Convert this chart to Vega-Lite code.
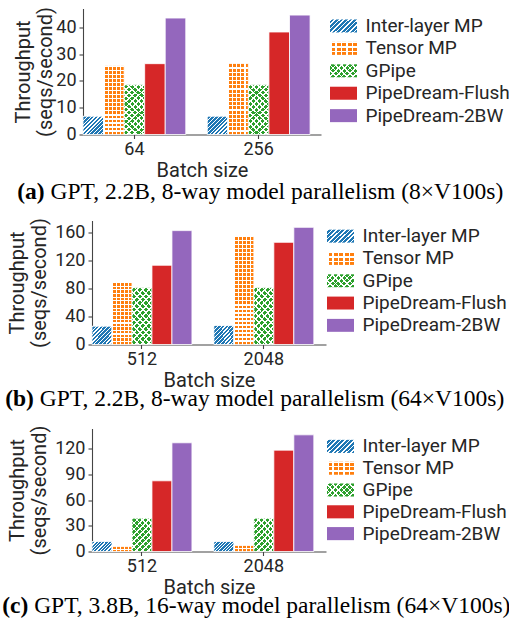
{
  "$schema": "https://vega.github.io/schema/vega-lite/v6.json",
  "padding": {"left": 2, "top": 6.5, "right": 0, "bottom": 0},
  "datasets": {
    "a": [
      {"batch": "64", "series": "Inter-layer MP", "value": 6.8},
      {"batch": "64", "series": "Tensor MP", "value": 25.6},
      {"batch": "64", "series": "GPipe", "value": 18.5},
      {"batch": "64", "series": "PipeDream-Flush", "value": 26.4},
      {"batch": "64", "series": "PipeDream-2BW", "value": 43.4},
      {"batch": "256", "series": "Inter-layer MP", "value": 6.8},
      {"batch": "256", "series": "Tensor MP", "value": 26.6},
      {"batch": "256", "series": "GPipe", "value": 18.5},
      {"batch": "256", "series": "PipeDream-Flush", "value": 38.2},
      {"batch": "256", "series": "PipeDream-2BW", "value": 44.5}
    ],
    "b": [
      {"batch": "512", "series": "Inter-layer MP", "value": 26.2},
      {"batch": "512", "series": "Tensor MP", "value": 89.7},
      {"batch": "512", "series": "GPipe", "value": 81.6},
      {"batch": "512", "series": "PipeDream-Flush", "value": 113.6},
      {"batch": "512", "series": "PipeDream-2BW", "value": 163.3},
      {"batch": "2048", "series": "Inter-layer MP", "value": 27.2},
      {"batch": "2048", "series": "Tensor MP", "value": 155.6},
      {"batch": "2048", "series": "GPipe", "value": 81.6},
      {"batch": "2048", "series": "PipeDream-Flush", "value": 146.5},
      {"batch": "2048", "series": "PipeDream-2BW", "value": 168}
    ],
    "c": [
      {"batch": "512", "series": "Inter-layer MP", "value": 11.7},
      {"batch": "512", "series": "Tensor MP", "value": 5.8},
      {"batch": "512", "series": "GPipe", "value": 38.9},
      {"batch": "512", "series": "PipeDream-Flush", "value": 82.6},
      {"batch": "512", "series": "PipeDream-2BW", "value": 127},
      {"batch": "2048", "series": "Inter-layer MP", "value": 11.7},
      {"batch": "2048", "series": "Tensor MP", "value": 7},
      {"batch": "2048", "series": "GPipe", "value": 38.9},
      {"batch": "2048", "series": "PipeDream-Flush", "value": 118.4},
      {"batch": "2048", "series": "PipeDream-2BW", "value": 136.3}
    ],
    "keys": [
      {"series": "Inter-layer MP"},
      {"series": "Tensor MP"},
      {"series": "GPipe"},
      {"series": "PipeDream-Flush"},
      {"series": "PipeDream-2BW"}
    ]
  },
  "config": {
    "font": "Roboto",
    "view": {"stroke": null},
    "axis": {
      "grid": false,
      "labelFont": "Roboto", "labelFontSize": 18, "labelColor": "#262626",
      "titleFont": "Roboto", "titleFontSize": 20, "titleFontWeight": "normal", "titleColor": "#262626",
      "domainColor": "#444", "tickColor": "#444", "domainWidth": 1.1, "tickWidth": 1.1
    },
    "axisX": {"ticks": true, "tickSize": 4, "labelPadding": 1.8, "titlePadding": 2, "labelAngle": 0},
    "axisY": {"tickSize": 4, "labelPadding": 3, "titlePadding": 5, "titleLineHeight": 22},
    "title": {"font": "Liberation Serif", "fontSize": 23.5, "color": "#000", "orient": "bottom", "anchor": "start", "fontWeight": "normal", "offset": 2},
    "style": {
      "hIL": {"color": {"gradient": "linear", "x1": 0, "y1": 0, "x2": 1.06, "y2": 0.94, "stops": [
        {"offset": 0, "color": "#fff"}, {"offset": 0.035, "color": "#fff"}, {"offset": 0.035, "color": "#1f77b4"}, {"offset": 0.1, "color": "#1f77b4"},
        {"offset": 0.1, "color": "#fff"}, {"offset": 0.135, "color": "#fff"}, {"offset": 0.135, "color": "#1f77b4"}, {"offset": 0.2, "color": "#1f77b4"},
        {"offset": 0.2, "color": "#fff"}, {"offset": 0.235, "color": "#fff"}, {"offset": 0.235, "color": "#1f77b4"}, {"offset": 0.3, "color": "#1f77b4"},
        {"offset": 0.3, "color": "#fff"}, {"offset": 0.335, "color": "#fff"}, {"offset": 0.335, "color": "#1f77b4"}, {"offset": 0.4, "color": "#1f77b4"},
        {"offset": 0.4, "color": "#fff"}, {"offset": 0.435, "color": "#fff"}, {"offset": 0.435, "color": "#1f77b4"}, {"offset": 0.5, "color": "#1f77b4"},
        {"offset": 0.5, "color": "#fff"}, {"offset": 0.535, "color": "#fff"}, {"offset": 0.535, "color": "#1f77b4"}, {"offset": 0.6, "color": "#1f77b4"},
        {"offset": 0.6, "color": "#fff"}, {"offset": 0.635, "color": "#fff"}, {"offset": 0.635, "color": "#1f77b4"}, {"offset": 0.7, "color": "#1f77b4"},
        {"offset": 0.7, "color": "#fff"}, {"offset": 0.735, "color": "#fff"}, {"offset": 0.735, "color": "#1f77b4"}, {"offset": 0.8, "color": "#1f77b4"},
        {"offset": 0.8, "color": "#fff"}, {"offset": 0.835, "color": "#fff"}, {"offset": 0.835, "color": "#1f77b4"}, {"offset": 0.9, "color": "#1f77b4"},
        {"offset": 0.9, "color": "#fff"}, {"offset": 0.935, "color": "#fff"}, {"offset": 0.935, "color": "#1f77b4"}, {"offset": 1, "color": "#1f77b4"}
      ]}},
      "hILw": {"color": {"gradient": "linear", "x1": 0, "y1": 0, "x2": 1.2, "y2": 0.6, "stops": [
        {"offset": 0, "color": "#fff"}, {"offset": 0.04, "color": "#fff"}, {"offset": 0.04, "color": "#1f77b4"}, {"offset": 0.111, "color": "#1f77b4"},
        {"offset": 0.111, "color": "#fff"}, {"offset": 0.151, "color": "#fff"}, {"offset": 0.151, "color": "#1f77b4"}, {"offset": 0.222, "color": "#1f77b4"},
        {"offset": 0.222, "color": "#fff"}, {"offset": 0.262, "color": "#fff"}, {"offset": 0.262, "color": "#1f77b4"}, {"offset": 0.333, "color": "#1f77b4"},
        {"offset": 0.333, "color": "#fff"}, {"offset": 0.373, "color": "#fff"}, {"offset": 0.373, "color": "#1f77b4"}, {"offset": 0.444, "color": "#1f77b4"},
        {"offset": 0.444, "color": "#fff"}, {"offset": 0.484, "color": "#fff"}, {"offset": 0.484, "color": "#1f77b4"}, {"offset": 0.556, "color": "#1f77b4"},
        {"offset": 0.556, "color": "#fff"}, {"offset": 0.596, "color": "#fff"}, {"offset": 0.596, "color": "#1f77b4"}, {"offset": 0.667, "color": "#1f77b4"},
        {"offset": 0.667, "color": "#fff"}, {"offset": 0.707, "color": "#fff"}, {"offset": 0.707, "color": "#1f77b4"}, {"offset": 0.778, "color": "#1f77b4"},
        {"offset": 0.778, "color": "#fff"}, {"offset": 0.818, "color": "#fff"}, {"offset": 0.818, "color": "#1f77b4"}, {"offset": 0.889, "color": "#1f77b4"},
        {"offset": 0.889, "color": "#fff"}, {"offset": 0.929, "color": "#fff"}, {"offset": 0.929, "color": "#1f77b4"}, {"offset": 1, "color": "#1f77b4"}
      ]}},
      "hTPv": {"color": {"gradient": "linear", "x1": 0, "y1": 0, "x2": 1, "y2": 0, "stops": [
        {"offset": 0, "color": "#fff"}, {"offset": 0.06, "color": "#fff"}, {"offset": 0.06, "color": "#ff7f0e"}, {"offset": 0.2, "color": "#ff7f0e"},
        {"offset": 0.2, "color": "#fff"}, {"offset": 0.26, "color": "#fff"}, {"offset": 0.26, "color": "#ff7f0e"}, {"offset": 0.4, "color": "#ff7f0e"},
        {"offset": 0.4, "color": "#fff"}, {"offset": 0.46, "color": "#fff"}, {"offset": 0.46, "color": "#ff7f0e"}, {"offset": 0.6, "color": "#ff7f0e"},
        {"offset": 0.6, "color": "#fff"}, {"offset": 0.66, "color": "#fff"}, {"offset": 0.66, "color": "#ff7f0e"}, {"offset": 0.8, "color": "#ff7f0e"},
        {"offset": 0.8, "color": "#fff"}, {"offset": 0.86, "color": "#fff"}, {"offset": 0.86, "color": "#ff7f0e"}, {"offset": 1, "color": "#ff7f0e"}
      ]}},
      "hTPh17": {"color": {"gradient": "linear", "x1": 0, "y1": 0, "x2": 0, "y2": 1, "stops": [
        {"offset": 0, "color": "#fff"}, {"offset": 0.0176, "color": "#fff"}, {"offset": 0.0176, "color": "transparent"}, {"offset": 0.0588, "color": "transparent"},
        {"offset": 0.0588, "color": "#fff"}, {"offset": 0.0764, "color": "#fff"}, {"offset": 0.0764, "color": "transparent"}, {"offset": 0.1176, "color": "transparent"},
        {"offset": 0.1176, "color": "#fff"}, {"offset": 0.1352, "color": "#fff"}, {"offset": 0.1352, "color": "transparent"}, {"offset": 0.1765, "color": "transparent"},
        {"offset": 0.1765, "color": "#fff"}, {"offset": 0.1941, "color": "#fff"}, {"offset": 0.1941, "color": "transparent"}, {"offset": 0.2353, "color": "transparent"},
        {"offset": 0.2353, "color": "#fff"}, {"offset": 0.2529, "color": "#fff"}, {"offset": 0.2529, "color": "transparent"}, {"offset": 0.2941, "color": "transparent"},
        {"offset": 0.2941, "color": "#fff"}, {"offset": 0.3117, "color": "#fff"}, {"offset": 0.3117, "color": "transparent"}, {"offset": 0.3529, "color": "transparent"},
        {"offset": 0.3529, "color": "#fff"}, {"offset": 0.3705, "color": "#fff"}, {"offset": 0.3705, "color": "transparent"}, {"offset": 0.4118, "color": "transparent"},
        {"offset": 0.4118, "color": "#fff"}, {"offset": 0.4294, "color": "#fff"}, {"offset": 0.4294, "color": "transparent"}, {"offset": 0.4706, "color": "transparent"},
        {"offset": 0.4706, "color": "#fff"}, {"offset": 0.4882, "color": "#fff"}, {"offset": 0.4882, "color": "transparent"}, {"offset": 0.5294, "color": "transparent"},
        {"offset": 0.5294, "color": "#fff"}, {"offset": 0.547, "color": "#fff"}, {"offset": 0.547, "color": "transparent"}, {"offset": 0.5882, "color": "transparent"},
        {"offset": 0.5882, "color": "#fff"}, {"offset": 0.6058, "color": "#fff"}, {"offset": 0.6058, "color": "transparent"}, {"offset": 0.6471, "color": "transparent"},
        {"offset": 0.6471, "color": "#fff"}, {"offset": 0.6647, "color": "#fff"}, {"offset": 0.6647, "color": "transparent"}, {"offset": 0.7059, "color": "transparent"},
        {"offset": 0.7059, "color": "#fff"}, {"offset": 0.7235, "color": "#fff"}, {"offset": 0.7235, "color": "transparent"}, {"offset": 0.7647, "color": "transparent"},
        {"offset": 0.7647, "color": "#fff"}, {"offset": 0.7823, "color": "#fff"}, {"offset": 0.7823, "color": "transparent"}, {"offset": 0.8235, "color": "transparent"},
        {"offset": 0.8235, "color": "#fff"}, {"offset": 0.8411, "color": "#fff"}, {"offset": 0.8411, "color": "transparent"}, {"offset": 0.8824, "color": "transparent"},
        {"offset": 0.8824, "color": "#fff"}, {"offset": 0.9, "color": "#fff"}, {"offset": 0.9, "color": "transparent"}, {"offset": 0.9412, "color": "transparent"},
        {"offset": 0.9412, "color": "#fff"}, {"offset": 0.9588, "color": "#fff"}, {"offset": 0.9588, "color": "transparent"}, {"offset": 1, "color": "transparent"}
      ]}},
      "hTPh27": {"color": {"gradient": "linear", "x1": 0, "y1": 0, "x2": 0, "y2": 1, "stops": [
        {"offset": 0, "color": "#fff"}, {"offset": 0.0111, "color": "#fff"}, {"offset": 0.0111, "color": "transparent"}, {"offset": 0.037, "color": "transparent"},
        {"offset": 0.037, "color": "#fff"}, {"offset": 0.0481, "color": "#fff"}, {"offset": 0.0481, "color": "transparent"}, {"offset": 0.0741, "color": "transparent"},
        {"offset": 0.0741, "color": "#fff"}, {"offset": 0.0852, "color": "#fff"}, {"offset": 0.0852, "color": "transparent"}, {"offset": 0.1111, "color": "transparent"},
        {"offset": 0.1111, "color": "#fff"}, {"offset": 0.1222, "color": "#fff"}, {"offset": 0.1222, "color": "transparent"}, {"offset": 0.1481, "color": "transparent"},
        {"offset": 0.1481, "color": "#fff"}, {"offset": 0.1592, "color": "#fff"}, {"offset": 0.1592, "color": "transparent"}, {"offset": 0.1852, "color": "transparent"},
        {"offset": 0.1852, "color": "#fff"}, {"offset": 0.1963, "color": "#fff"}, {"offset": 0.1963, "color": "transparent"}, {"offset": 0.2222, "color": "transparent"},
        {"offset": 0.2222, "color": "#fff"}, {"offset": 0.2333, "color": "#fff"}, {"offset": 0.2333, "color": "transparent"}, {"offset": 0.2593, "color": "transparent"},
        {"offset": 0.2593, "color": "#fff"}, {"offset": 0.2704, "color": "#fff"}, {"offset": 0.2704, "color": "transparent"}, {"offset": 0.2963, "color": "transparent"},
        {"offset": 0.2963, "color": "#fff"}, {"offset": 0.3074, "color": "#fff"}, {"offset": 0.3074, "color": "transparent"}, {"offset": 0.3333, "color": "transparent"},
        {"offset": 0.3333, "color": "#fff"}, {"offset": 0.3444, "color": "#fff"}, {"offset": 0.3444, "color": "transparent"}, {"offset": 0.3704, "color": "transparent"},
        {"offset": 0.3704, "color": "#fff"}, {"offset": 0.3815, "color": "#fff"}, {"offset": 0.3815, "color": "transparent"}, {"offset": 0.4074, "color": "transparent"},
        {"offset": 0.4074, "color": "#fff"}, {"offset": 0.4185, "color": "#fff"}, {"offset": 0.4185, "color": "transparent"}, {"offset": 0.4444, "color": "transparent"},
        {"offset": 0.4444, "color": "#fff"}, {"offset": 0.4555, "color": "#fff"}, {"offset": 0.4555, "color": "transparent"}, {"offset": 0.4815, "color": "transparent"},
        {"offset": 0.4815, "color": "#fff"}, {"offset": 0.4926, "color": "#fff"}, {"offset": 0.4926, "color": "transparent"}, {"offset": 0.5185, "color": "transparent"},
        {"offset": 0.5185, "color": "#fff"}, {"offset": 0.5296, "color": "#fff"}, {"offset": 0.5296, "color": "transparent"}, {"offset": 0.5556, "color": "transparent"},
        {"offset": 0.5556, "color": "#fff"}, {"offset": 0.5667, "color": "#fff"}, {"offset": 0.5667, "color": "transparent"}, {"offset": 0.5926, "color": "transparent"},
        {"offset": 0.5926, "color": "#fff"}, {"offset": 0.6037, "color": "#fff"}, {"offset": 0.6037, "color": "transparent"}, {"offset": 0.6296, "color": "transparent"},
        {"offset": 0.6296, "color": "#fff"}, {"offset": 0.6407, "color": "#fff"}, {"offset": 0.6407, "color": "transparent"}, {"offset": 0.6667, "color": "transparent"},
        {"offset": 0.6667, "color": "#fff"}, {"offset": 0.6778, "color": "#fff"}, {"offset": 0.6778, "color": "transparent"}, {"offset": 0.7037, "color": "transparent"},
        {"offset": 0.7037, "color": "#fff"}, {"offset": 0.7148, "color": "#fff"}, {"offset": 0.7148, "color": "transparent"}, {"offset": 0.7407, "color": "transparent"},
        {"offset": 0.7407, "color": "#fff"}, {"offset": 0.7518, "color": "#fff"}, {"offset": 0.7518, "color": "transparent"}, {"offset": 0.7778, "color": "transparent"},
        {"offset": 0.7778, "color": "#fff"}, {"offset": 0.7889, "color": "#fff"}, {"offset": 0.7889, "color": "transparent"}, {"offset": 0.8148, "color": "transparent"},
        {"offset": 0.8148, "color": "#fff"}, {"offset": 0.8259, "color": "#fff"}, {"offset": 0.8259, "color": "transparent"}, {"offset": 0.8519, "color": "transparent"},
        {"offset": 0.8519, "color": "#fff"}, {"offset": 0.863, "color": "#fff"}, {"offset": 0.863, "color": "transparent"}, {"offset": 0.8889, "color": "transparent"},
        {"offset": 0.8889, "color": "#fff"}, {"offset": 0.9, "color": "#fff"}, {"offset": 0.9, "color": "transparent"}, {"offset": 0.9259, "color": "transparent"},
        {"offset": 0.9259, "color": "#fff"}, {"offset": 0.937, "color": "#fff"}, {"offset": 0.937, "color": "transparent"}, {"offset": 0.963, "color": "transparent"},
        {"offset": 0.963, "color": "#fff"}, {"offset": 0.9741, "color": "#fff"}, {"offset": 0.9741, "color": "transparent"}, {"offset": 1, "color": "transparent"}
      ]}},
      "hTPh1": {"color": {"gradient": "linear", "x1": 0, "y1": 0, "x2": 0, "y2": 1, "stops": [
        {"offset": 0, "color": "transparent"}, {"offset": 0.4, "color": "transparent"}, {"offset": 0.4, "color": "#fff"},
        {"offset": 0.62, "color": "#fff"}, {"offset": 0.62, "color": "transparent"}, {"offset": 1, "color": "transparent"}
      ]}},
      "hTPh3": {"color": {"gradient": "linear", "x1": 0, "y1": 0, "x2": 0, "y2": 1, "stops": [
        {"offset": 0, "color": "#fff"}, {"offset": 0.1, "color": "#fff"}, {"offset": 0.1, "color": "transparent"}, {"offset": 0.333, "color": "transparent"},
        {"offset": 0.333, "color": "#fff"}, {"offset": 0.433, "color": "#fff"}, {"offset": 0.433, "color": "transparent"}, {"offset": 0.667, "color": "transparent"},
        {"offset": 0.667, "color": "#fff"}, {"offset": 0.767, "color": "#fff"}, {"offset": 0.767, "color": "transparent"}, {"offset": 1, "color": "transparent"}
      ]}},
      "hGP1": {"color": {"gradient": "linear", "x1": 0, "y1": 0, "x2": 0.458, "y2": 1.206, "stops": [
        {"offset": 0, "color": "#fff"}, {"offset": 0.025, "color": "#fff"}, {"offset": 0.025, "color": "#2ca02c"}, {"offset": 0.0833, "color": "#2ca02c"},
        {"offset": 0.0833, "color": "#fff"}, {"offset": 0.1083, "color": "#fff"}, {"offset": 0.1083, "color": "#2ca02c"}, {"offset": 0.1667, "color": "#2ca02c"},
        {"offset": 0.1667, "color": "#fff"}, {"offset": 0.1917, "color": "#fff"}, {"offset": 0.1917, "color": "#2ca02c"}, {"offset": 0.25, "color": "#2ca02c"},
        {"offset": 0.25, "color": "#fff"}, {"offset": 0.275, "color": "#fff"}, {"offset": 0.275, "color": "#2ca02c"}, {"offset": 0.3333, "color": "#2ca02c"},
        {"offset": 0.3333, "color": "#fff"}, {"offset": 0.3583, "color": "#fff"}, {"offset": 0.3583, "color": "#2ca02c"}, {"offset": 0.4167, "color": "#2ca02c"},
        {"offset": 0.4167, "color": "#fff"}, {"offset": 0.4417, "color": "#fff"}, {"offset": 0.4417, "color": "#2ca02c"}, {"offset": 0.5, "color": "#2ca02c"},
        {"offset": 0.5, "color": "#fff"}, {"offset": 0.525, "color": "#fff"}, {"offset": 0.525, "color": "#2ca02c"}, {"offset": 0.5833, "color": "#2ca02c"},
        {"offset": 0.5833, "color": "#fff"}, {"offset": 0.6083, "color": "#fff"}, {"offset": 0.6083, "color": "#2ca02c"}, {"offset": 0.6667, "color": "#2ca02c"},
        {"offset": 0.6667, "color": "#fff"}, {"offset": 0.6917, "color": "#fff"}, {"offset": 0.6917, "color": "#2ca02c"}, {"offset": 0.75, "color": "#2ca02c"},
        {"offset": 0.75, "color": "#fff"}, {"offset": 0.775, "color": "#fff"}, {"offset": 0.775, "color": "#2ca02c"}, {"offset": 0.8333, "color": "#2ca02c"},
        {"offset": 0.8333, "color": "#fff"}, {"offset": 0.8583, "color": "#fff"}, {"offset": 0.8583, "color": "#2ca02c"}, {"offset": 0.9167, "color": "#2ca02c"},
        {"offset": 0.9167, "color": "#fff"}, {"offset": 0.9417, "color": "#fff"}, {"offset": 0.9417, "color": "#2ca02c"}, {"offset": 1, "color": "#2ca02c"}
      ]}},
      "hGP2": {"color": {"gradient": "linear", "x1": 0, "y1": 1, "x2": 0.458, "y2": -0.206, "stops": [
        {"offset": 0, "color": "#fff"}, {"offset": 0.025, "color": "#fff"}, {"offset": 0.025, "color": "transparent"}, {"offset": 0.0833, "color": "transparent"},
        {"offset": 0.0833, "color": "#fff"}, {"offset": 0.1083, "color": "#fff"}, {"offset": 0.1083, "color": "transparent"}, {"offset": 0.1667, "color": "transparent"},
        {"offset": 0.1667, "color": "#fff"}, {"offset": 0.1917, "color": "#fff"}, {"offset": 0.1917, "color": "transparent"}, {"offset": 0.25, "color": "transparent"},
        {"offset": 0.25, "color": "#fff"}, {"offset": 0.275, "color": "#fff"}, {"offset": 0.275, "color": "transparent"}, {"offset": 0.3333, "color": "transparent"},
        {"offset": 0.3333, "color": "#fff"}, {"offset": 0.3583, "color": "#fff"}, {"offset": 0.3583, "color": "transparent"}, {"offset": 0.4167, "color": "transparent"},
        {"offset": 0.4167, "color": "#fff"}, {"offset": 0.4417, "color": "#fff"}, {"offset": 0.4417, "color": "transparent"}, {"offset": 0.5, "color": "transparent"},
        {"offset": 0.5, "color": "#fff"}, {"offset": 0.525, "color": "#fff"}, {"offset": 0.525, "color": "transparent"}, {"offset": 0.5833, "color": "transparent"},
        {"offset": 0.5833, "color": "#fff"}, {"offset": 0.6083, "color": "#fff"}, {"offset": 0.6083, "color": "transparent"}, {"offset": 0.6667, "color": "transparent"},
        {"offset": 0.6667, "color": "#fff"}, {"offset": 0.6917, "color": "#fff"}, {"offset": 0.6917, "color": "transparent"}, {"offset": 0.75, "color": "transparent"},
        {"offset": 0.75, "color": "#fff"}, {"offset": 0.775, "color": "#fff"}, {"offset": 0.775, "color": "transparent"}, {"offset": 0.8333, "color": "transparent"},
        {"offset": 0.8333, "color": "#fff"}, {"offset": 0.8583, "color": "#fff"}, {"offset": 0.8583, "color": "transparent"}, {"offset": 0.9167, "color": "transparent"},
        {"offset": 0.9167, "color": "#fff"}, {"offset": 0.9417, "color": "#fff"}, {"offset": 0.9417, "color": "transparent"}, {"offset": 1, "color": "transparent"}
      ]}},
      "hGPc1": {"color": {"gradient": "linear", "x1": 0, "y1": 0, "x2": 0.712, "y2": 1.175, "stops": [
        {"offset": 0, "color": "#fff"}, {"offset": 0.03, "color": "#fff"}, {"offset": 0.03, "color": "#2ca02c"}, {"offset": 0.111, "color": "#2ca02c"},
        {"offset": 0.111, "color": "#fff"}, {"offset": 0.141, "color": "#fff"}, {"offset": 0.141, "color": "#2ca02c"}, {"offset": 0.222, "color": "#2ca02c"},
        {"offset": 0.222, "color": "#fff"}, {"offset": 0.252, "color": "#fff"}, {"offset": 0.252, "color": "#2ca02c"}, {"offset": 0.333, "color": "#2ca02c"},
        {"offset": 0.333, "color": "#fff"}, {"offset": 0.363, "color": "#fff"}, {"offset": 0.363, "color": "#2ca02c"}, {"offset": 0.444, "color": "#2ca02c"},
        {"offset": 0.444, "color": "#fff"}, {"offset": 0.474, "color": "#fff"}, {"offset": 0.474, "color": "#2ca02c"}, {"offset": 0.556, "color": "#2ca02c"},
        {"offset": 0.556, "color": "#fff"}, {"offset": 0.586, "color": "#fff"}, {"offset": 0.586, "color": "#2ca02c"}, {"offset": 0.667, "color": "#2ca02c"},
        {"offset": 0.667, "color": "#fff"}, {"offset": 0.697, "color": "#fff"}, {"offset": 0.697, "color": "#2ca02c"}, {"offset": 0.778, "color": "#2ca02c"},
        {"offset": 0.778, "color": "#fff"}, {"offset": 0.808, "color": "#fff"}, {"offset": 0.808, "color": "#2ca02c"}, {"offset": 0.889, "color": "#2ca02c"},
        {"offset": 0.889, "color": "#fff"}, {"offset": 0.919, "color": "#fff"}, {"offset": 0.919, "color": "#2ca02c"}, {"offset": 1, "color": "#2ca02c"}
      ]}},
      "hGPc2": {"color": {"gradient": "linear", "x1": 0, "y1": 1, "x2": 0.712, "y2": -0.175, "stops": [
        {"offset": 0, "color": "#fff"}, {"offset": 0.03, "color": "#fff"}, {"offset": 0.03, "color": "transparent"}, {"offset": 0.111, "color": "transparent"},
        {"offset": 0.111, "color": "#fff"}, {"offset": 0.141, "color": "#fff"}, {"offset": 0.141, "color": "transparent"}, {"offset": 0.222, "color": "transparent"},
        {"offset": 0.222, "color": "#fff"}, {"offset": 0.252, "color": "#fff"}, {"offset": 0.252, "color": "transparent"}, {"offset": 0.333, "color": "transparent"},
        {"offset": 0.333, "color": "#fff"}, {"offset": 0.363, "color": "#fff"}, {"offset": 0.363, "color": "transparent"}, {"offset": 0.444, "color": "transparent"},
        {"offset": 0.444, "color": "#fff"}, {"offset": 0.474, "color": "#fff"}, {"offset": 0.474, "color": "transparent"}, {"offset": 0.556, "color": "transparent"},
        {"offset": 0.556, "color": "#fff"}, {"offset": 0.586, "color": "#fff"}, {"offset": 0.586, "color": "transparent"}, {"offset": 0.667, "color": "transparent"},
        {"offset": 0.667, "color": "#fff"}, {"offset": 0.697, "color": "#fff"}, {"offset": 0.697, "color": "transparent"}, {"offset": 0.778, "color": "transparent"},
        {"offset": 0.778, "color": "#fff"}, {"offset": 0.808, "color": "#fff"}, {"offset": 0.808, "color": "transparent"}, {"offset": 0.889, "color": "transparent"},
        {"offset": 0.889, "color": "#fff"}, {"offset": 0.919, "color": "#fff"}, {"offset": 0.919, "color": "transparent"}, {"offset": 1, "color": "transparent"}
      ]}},
      "hGPl1": {"color": {"gradient": "linear", "x1": 0, "y1": 0, "x2": 1.203, "y2": 0.579, "stops": [
        {"offset": 0, "color": "#fff"}, {"offset": 0.04, "color": "#fff"}, {"offset": 0.04, "color": "#2ca02c"}, {"offset": 0.1429, "color": "#2ca02c"},
        {"offset": 0.1429, "color": "#fff"}, {"offset": 0.1829, "color": "#fff"}, {"offset": 0.1829, "color": "#2ca02c"}, {"offset": 0.2857, "color": "#2ca02c"},
        {"offset": 0.2857, "color": "#fff"}, {"offset": 0.3257, "color": "#fff"}, {"offset": 0.3257, "color": "#2ca02c"}, {"offset": 0.4286, "color": "#2ca02c"},
        {"offset": 0.4286, "color": "#fff"}, {"offset": 0.4686, "color": "#fff"}, {"offset": 0.4686, "color": "#2ca02c"}, {"offset": 0.5714, "color": "#2ca02c"},
        {"offset": 0.5714, "color": "#fff"}, {"offset": 0.6114, "color": "#fff"}, {"offset": 0.6114, "color": "#2ca02c"}, {"offset": 0.7143, "color": "#2ca02c"},
        {"offset": 0.7143, "color": "#fff"}, {"offset": 0.7543, "color": "#fff"}, {"offset": 0.7543, "color": "#2ca02c"}, {"offset": 0.8571, "color": "#2ca02c"},
        {"offset": 0.8571, "color": "#fff"}, {"offset": 0.8971, "color": "#fff"}, {"offset": 0.8971, "color": "#2ca02c"}, {"offset": 1, "color": "#2ca02c"}
      ]}},
      "hGPl2": {"color": {"gradient": "linear", "x1": 0, "y1": 1, "x2": 1.203, "y2": 0.421, "stops": [
        {"offset": 0, "color": "#fff"}, {"offset": 0.04, "color": "#fff"}, {"offset": 0.04, "color": "transparent"}, {"offset": 0.1429, "color": "transparent"},
        {"offset": 0.1429, "color": "#fff"}, {"offset": 0.1829, "color": "#fff"}, {"offset": 0.1829, "color": "transparent"}, {"offset": 0.2857, "color": "transparent"},
        {"offset": 0.2857, "color": "#fff"}, {"offset": 0.3257, "color": "#fff"}, {"offset": 0.3257, "color": "transparent"}, {"offset": 0.4286, "color": "transparent"},
        {"offset": 0.4286, "color": "#fff"}, {"offset": 0.4686, "color": "#fff"}, {"offset": 0.4686, "color": "transparent"}, {"offset": 0.5714, "color": "transparent"},
        {"offset": 0.5714, "color": "#fff"}, {"offset": 0.6114, "color": "#fff"}, {"offset": 0.6114, "color": "transparent"}, {"offset": 0.7143, "color": "transparent"},
        {"offset": 0.7143, "color": "#fff"}, {"offset": 0.7543, "color": "#fff"}, {"offset": 0.7543, "color": "transparent"}, {"offset": 0.8571, "color": "transparent"},
        {"offset": 0.8571, "color": "#fff"}, {"offset": 0.8971, "color": "#fff"}, {"offset": 0.8971, "color": "transparent"}, {"offset": 1, "color": "transparent"}
      ]}}
    }
  },
  "concat": [
    {
      "title": {"text": "(a)", "fontWeight": "bold", "dy": -25.5, "dx": 4},
      "vconcat": [{
        "title": {"text": "GPT, 2.2B, 8-way model parallelism (8×V100s)", "dx": 37.3, "offset": -0.5},
        "spacing": -5,
        "hconcat": [
          {
            "width": 229, "height": 126,
            "data": {"name": "a"},
            "encoding": {
              "x": {"field": "batch", "type": "nominal", "scale": {"domain": ["64", "256"], "range": [-9, 229], "paddingInner": 0.173, "paddingOuter": 0.044, "align": 0}, "axis": {"title": "Batch size"}},
              "xOffset": {"field": "series", "type": "nominal", "scale": {"domain": ["Inter-layer MP", "Tensor MP", "GPipe", "PipeDream-Flush", "PipeDream-2BW"], "paddingInner": 0, "paddingOuter": 0}},
              "y": {"field": "value", "type": "quantitative", "stack": null, "scale": {"domain": [0, 46.96], "nice": false}, "axis": {"offset": 9, "titlePadding": 0.5, "values": [0, 10, 20, 30, 40], "title": ["Throughput", "(seqs/second)"]}}
            },
            "layer": [
              {"transform": [{"filter": "datum.series == 'Inter-layer MP'"}], "mark": {"type": "bar", "style": "hIL", "stroke": "#fff", "strokeWidth": 0.8}},
              {"transform": [{"filter": "datum.series == 'Tensor MP'"}], "mark": {"type": "bar", "style": "hTPv", "stroke": "#fff", "strokeWidth": 0.8}},
              {"transform": [{"filter": "datum.series == 'Tensor MP'"}], "mark": {"type": "bar", "style": "hTPh17"}},
              {"transform": [{"filter": "datum.series == 'GPipe'"}], "mark": {"type": "bar", "style": "hGP1", "stroke": "#fff", "strokeWidth": 0.8}},
              {"transform": [{"filter": "datum.series == 'GPipe'"}], "mark": {"type": "bar", "style": "hGP2"}},
              {"transform": [{"filter": "datum.series == 'PipeDream-Flush'"}], "mark": {"type": "bar", "color": "#d62728", "stroke": "#fff", "strokeWidth": 0.8}},
              {"transform": [{"filter": "datum.series == 'PipeDream-2BW'"}], "mark": {"type": "bar", "color": "#9467bd", "stroke": "#fff", "strokeWidth": 0.8}}
            ]
          },
          {
            "width": 27, "height": 126,
            "data": {"name": "keys"},
            "encoding": {
              "y": {"field": "series", "type": "nominal", "scale": {"domain": ["Inter-layer MP", "Tensor MP", "GPipe", "PipeDream-Flush", "PipeDream-2BW"], "paddingInner": 0.42, "paddingOuter": 0.52, "align": 0.47},
                "axis": {"orient": "right", "title": null, "domain": false, "ticks": false, "labelPadding": 8, "labelFontSize": 19}}
            },
            "layer": [
              {"transform": [{"filter": "datum.series == 'Inter-layer MP'"}], "mark": {"type": "rect", "style": "hILw"}},
              {"transform": [{"filter": "datum.series == 'Tensor MP'"}], "mark": {"type": "rect", "style": "hTPv"}},
              {"transform": [{"filter": "datum.series == 'Tensor MP'"}], "mark": {"type": "rect", "style": "hTPh3"}},
              {"transform": [{"filter": "datum.series == 'GPipe'"}], "mark": {"type": "rect", "style": "hGPl1"}},
              {"transform": [{"filter": "datum.series == 'GPipe'"}], "mark": {"type": "rect", "style": "hGPl2"}},
              {"transform": [{"filter": "datum.series == 'PipeDream-Flush'"}], "mark": {"type": "rect", "color": "#d62728"}},
              {"transform": [{"filter": "datum.series == 'PipeDream-2BW'"}], "mark": {"type": "rect", "color": "#9467bd"}}
            ]
          }
        ]
      }]
    },
    {
      "title": {"text": "(b)", "fontWeight": "bold", "dy": -25.5, "dx": -2.5},
      "vconcat": [{
        "title": {"text": "GPT, 2.2B, 8-way model parallelism (64×V100s)", "dx": 32.1, "offset": -3.5},
        "spacing": 1,
        "hconcat": [
          {
            "width": 234, "height": 124,
            "data": {"name": "b"},
            "encoding": {
              "x": {"field": "batch", "type": "nominal", "scale": {"domain": ["512", "2048"], "paddingInner": 0.18, "paddingOuter": 0.05, "align": 0}, "axis": {"title": "Batch size"}},
              "xOffset": {"field": "series", "type": "nominal", "scale": {"domain": ["Inter-layer MP", "Tensor MP", "GPipe", "PipeDream-Flush", "PipeDream-2BW"], "paddingInner": 0, "paddingOuter": 0}},
              "y": {"field": "value", "type": "quantitative", "stack": null, "scale": {"domain": [0, 177.8], "nice": false}, "axis": {"values": [0, 40, 80, 120, 160], "title": ["Throughput", "(seqs/second)"]}}
            },
            "layer": [
              {"transform": [{"filter": "datum.series == 'Inter-layer MP'"}], "mark": {"type": "bar", "style": "hIL", "stroke": "#fff", "strokeWidth": 0.8}},
              {"transform": [{"filter": "datum.series == 'Tensor MP'"}], "mark": {"type": "bar", "style": "hTPv", "stroke": "#fff", "strokeWidth": 0.8}},
              {"transform": [{"filter": "datum.series == 'Tensor MP' && datum.batch == '512'"}], "mark": {"type": "bar", "style": "hTPh17"}},
              {"transform": [{"filter": "datum.series == 'Tensor MP' && datum.batch == '2048'"}], "mark": {"type": "bar", "style": "hTPh27"}},
              {"transform": [{"filter": "datum.series == 'GPipe'"}], "mark": {"type": "bar", "style": "hGP1", "stroke": "#fff", "strokeWidth": 0.8}},
              {"transform": [{"filter": "datum.series == 'GPipe'"}], "mark": {"type": "bar", "style": "hGP2"}},
              {"transform": [{"filter": "datum.series == 'PipeDream-Flush'"}], "mark": {"type": "bar", "color": "#d62728", "stroke": "#fff", "strokeWidth": 0.8}},
              {"transform": [{"filter": "datum.series == 'PipeDream-2BW'"}], "mark": {"type": "bar", "color": "#9467bd", "stroke": "#fff", "strokeWidth": 0.8}}
            ]
          },
          {
            "width": 27, "height": 124,
            "data": {"name": "keys"},
            "encoding": {
              "y": {"field": "series", "type": "nominal", "scale": {"domain": ["Inter-layer MP", "Tensor MP", "GPipe", "PipeDream-Flush", "PipeDream-2BW"], "paddingInner": 0.42, "paddingOuter": 0.49, "align": 0.42},
                "axis": {"orient": "right", "title": null, "domain": false, "ticks": false, "labelPadding": 8, "labelFontSize": 19}}
            },
            "layer": [
              {"transform": [{"filter": "datum.series == 'Inter-layer MP'"}], "mark": {"type": "rect", "style": "hILw"}},
              {"transform": [{"filter": "datum.series == 'Tensor MP'"}], "mark": {"type": "rect", "style": "hTPv"}},
              {"transform": [{"filter": "datum.series == 'Tensor MP'"}], "mark": {"type": "rect", "style": "hTPh3"}},
              {"transform": [{"filter": "datum.series == 'GPipe'"}], "mark": {"type": "rect", "style": "hGPl1"}},
              {"transform": [{"filter": "datum.series == 'GPipe'"}], "mark": {"type": "rect", "style": "hGPl2"}},
              {"transform": [{"filter": "datum.series == 'PipeDream-Flush'"}], "mark": {"type": "rect", "color": "#d62728"}},
              {"transform": [{"filter": "datum.series == 'PipeDream-2BW'"}], "mark": {"type": "rect", "color": "#9467bd"}}
            ]
          }
        ]
      }]
    },
    {
      "title": {"text": "(c)", "fontWeight": "bold", "dy": -25.5, "dx": -5.5},
      "vconcat": [{
        "title": {"text": "GPT, 3.8B, 16-way model parallelism (64×V100s)", "dx": 26.5, "offset": -3.5},
        "spacing": 1,
        "hconcat": [
          {
            "width": 234, "height": 123,
            "data": {"name": "c"},
            "encoding": {
              "x": {"field": "batch", "type": "nominal", "scale": {"domain": ["512", "2048"], "paddingInner": 0.18, "paddingOuter": 0.05, "align": 0}, "axis": {"title": "Batch size"}},
              "xOffset": {"field": "series", "type": "nominal", "scale": {"domain": ["Inter-layer MP", "Tensor MP", "GPipe", "PipeDream-Flush", "PipeDream-2BW"], "paddingInner": 0, "paddingOuter": 0}},
              "y": {"field": "value", "type": "quantitative", "stack": null, "scale": {"domain": [0, 143.7], "nice": false}, "axis": {"values": [0, 30, 60, 90, 120], "title": ["Throughput", "(seqs/second)"]}}
            },
            "layer": [
              {"transform": [{"filter": "datum.series == 'Inter-layer MP'"}], "mark": {"type": "bar", "style": "hILw", "stroke": "#fff", "strokeWidth": 0.8}},
              {"transform": [{"filter": "datum.series == 'Tensor MP'"}], "mark": {"type": "bar", "style": "hTPv", "stroke": "#fff", "strokeWidth": 0.8}},
              {"transform": [{"filter": "datum.series == 'Tensor MP'"}], "mark": {"type": "bar", "style": "hTPh1"}},
              {"transform": [{"filter": "datum.series == 'GPipe'"}], "mark": {"type": "bar", "style": "hGPc1", "stroke": "#fff", "strokeWidth": 0.8}},
              {"transform": [{"filter": "datum.series == 'GPipe'"}], "mark": {"type": "bar", "style": "hGPc2"}},
              {"transform": [{"filter": "datum.series == 'PipeDream-Flush'"}], "mark": {"type": "bar", "color": "#d62728", "stroke": "#fff", "strokeWidth": 0.8}},
              {"transform": [{"filter": "datum.series == 'PipeDream-2BW'"}], "mark": {"type": "bar", "color": "#9467bd", "stroke": "#fff", "strokeWidth": 0.8}}
            ]
          },
          {
            "width": 27, "height": 123,
            "data": {"name": "keys"},
            "encoding": {
              "y": {"field": "series", "type": "nominal", "scale": {"domain": ["Inter-layer MP", "Tensor MP", "GPipe", "PipeDream-Flush", "PipeDream-2BW"], "paddingInner": 0.4, "paddingOuter": 0.52, "align": 0.5},
                "axis": {"orient": "right", "title": null, "domain": false, "ticks": false, "labelPadding": 8, "labelFontSize": 19}}
            },
            "layer": [
              {"transform": [{"filter": "datum.series == 'Inter-layer MP'"}], "mark": {"type": "rect", "style": "hILw"}},
              {"transform": [{"filter": "datum.series == 'Tensor MP'"}], "mark": {"type": "rect", "style": "hTPv"}},
              {"transform": [{"filter": "datum.series == 'Tensor MP'"}], "mark": {"type": "rect", "style": "hTPh3"}},
              {"transform": [{"filter": "datum.series == 'GPipe'"}], "mark": {"type": "rect", "style": "hGPl1"}},
              {"transform": [{"filter": "datum.series == 'GPipe'"}], "mark": {"type": "rect", "style": "hGPl2"}},
              {"transform": [{"filter": "datum.series == 'PipeDream-Flush'"}], "mark": {"type": "rect", "color": "#d62728"}},
              {"transform": [{"filter": "datum.series == 'PipeDream-2BW'"}], "mark": {"type": "rect", "color": "#9467bd"}}
            ]
          }
        ]
      }]
    }
  ],
  "columns": 1,
  "align": "each",
  "spacing": 14,
  "resolve": {"scale": {"xOffset": "independent", "color": "independent"}}
}
